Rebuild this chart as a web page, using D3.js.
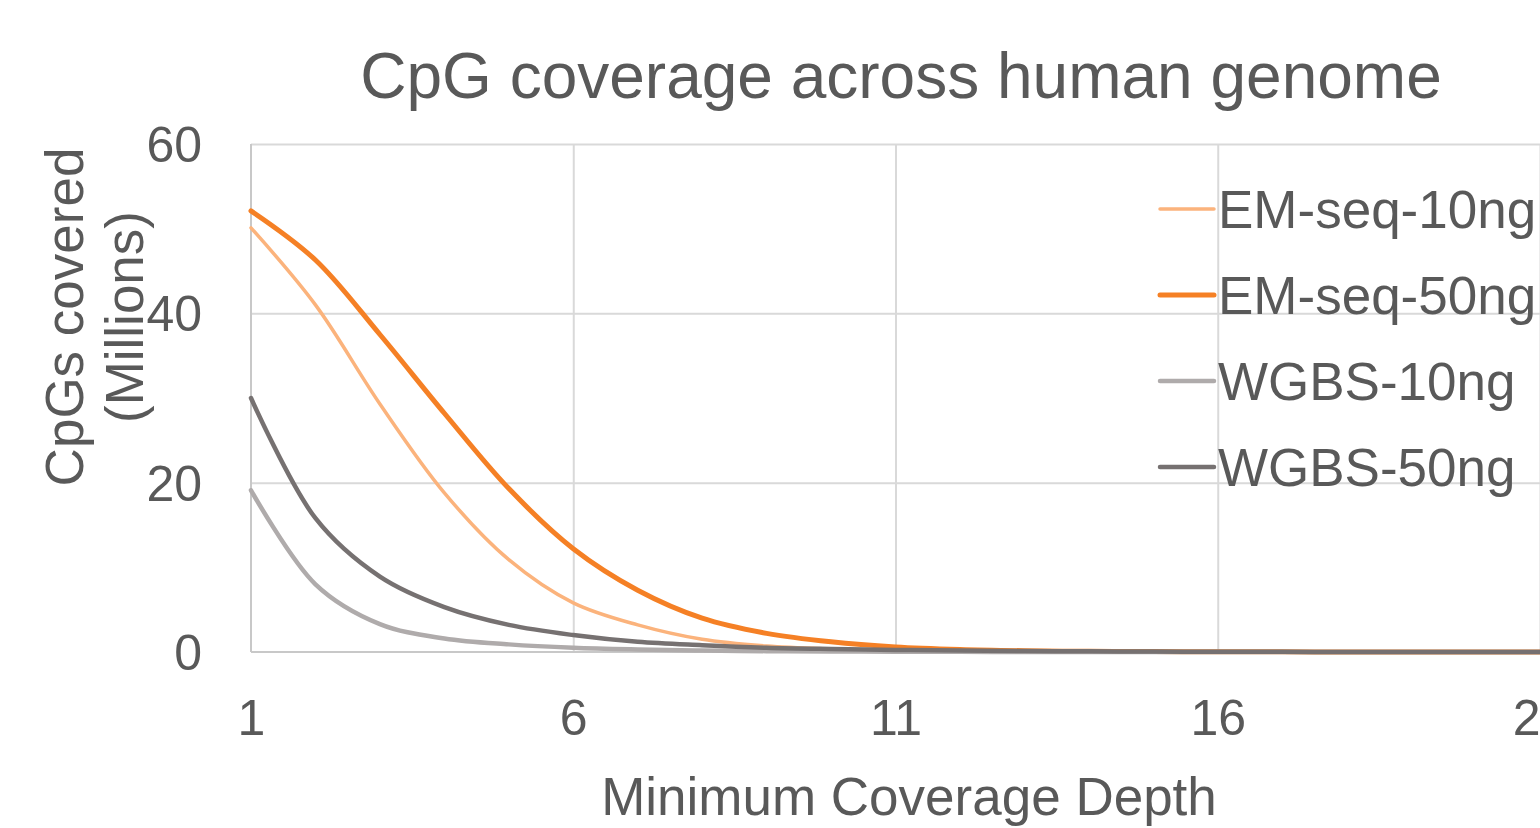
<!DOCTYPE html>
<html>
<head>
<meta charset="utf-8">
<script src="https://cdn.jsdelivr.net/npm/d3@7"></script>
<style>
  body { margin: 0; background: #fff; }
  svg { display: block; font-family: "Liberation Sans", Arial, sans-serif; }
  .axis text { fill: #595959; }
</style>
</head>
<body>
<div id="chart"></div>
<script>
// depth values on the x axis
var depths = [1, 2, 3, 4, 5, 6, 7, 8, 9, 10, 11, 12, 13, 14, 15, 16, 17, 18, 19, 20, 21];
var seriesNames = ["EM-seq-10ng", "EM-seq-50ng", "WGBS-10ng", "WGBS-50ng"];

// CpGs covered (millions)
var emSeq10 = [50.1, 41.0, 29.3, 18.8, 10.9, 5.8, 3.2, 1.5, 0.7, 0.35, 0.17, 0.08, 0.04, 0.02, 0.01, 0.01, 0, 0, 0, 0, 0];
var emSeq50 = [52.1, 46.3, 37.5, 28.2, 19.3, 12.2, 7.3, 4.0, 2.2, 1.2, 0.6, 0.3, 0.15, 0.08, 0.05, 0.03, 0.02, 0.01, 0.01, 0, 0];
var wgbs10 = [19.1, 8.0, 3.3, 1.6, 0.9, 0.5, 0.3, 0.18, 0.1, 0.06, 0.04, 0.02, 0.01, 0.01, 0, 0, 0, 0, 0, 0, 0];
var wgbs50 = [30.0, 15.8, 8.9, 5.3, 3.2, 2.0, 1.2, 0.8, 0.5, 0.35, 0.25, 0.17, 0.12, 0.08, 0.05, 0.03, 0.02, 0.01, 0.01, 0, 0];

var xTicks = [1, 6, 11, 16, 21];
var yTicks = [0, 20, 40, 60];

var colors = ["#fbb37c", "#f58025", "#afabab", "#767171"];
var widths = [3.5, 5, 4.5, 4.5];

var W = 1540, H = 828;
var margin = { top: 144, left: 251 };
var plotW = 1289, plotH = 508;

var svg = d3.select("#chart").append("svg")
    .attr("width", W)
    .attr("height", H);

var x = d3.scaleLinear().domain([1, 21]).range([0, plotW]);
var y = d3.scaleLinear().domain([0, 60]).range([plotH, 0]);

var g = svg.append("g")
    .attr("transform", "translate(" + margin.left + "," + margin.top + ")");

// gridlines
g.append("g")
    .attr("class", "grid")
    .call(d3.axisLeft(y).tickValues(yTicks.slice(1)).tickSize(-plotW).tickFormat(""))
    .call(function (s) { s.select(".domain").remove(); })
    .selectAll("line").attr("stroke", "#d9d9d9").attr("stroke-width", 2);

g.append("g")
    .attr("class", "grid")
    .attr("transform", "translate(0," + plotH + ")")
    .call(d3.axisBottom(x).tickValues(xTicks.slice(1)).tickSize(plotH).tickFormat(""))
    .call(function (s) { s.select(".domain").remove(); })
    .selectAll("line").attr("stroke", "#d9d9d9").attr("stroke-width", 2)
    .attr("y2", -plotH);

// axis lines
g.append("line")
    .attr("x1", 0).attr("x2", 0).attr("y1", 0).attr("y2", plotH)
    .attr("stroke", "#c8c8c8").attr("stroke-width", 2);
g.append("line")
    .attr("x1", 0).attr("x2", plotW).attr("y1", plotH).attr("y2", plotH)
    .attr("stroke", "#c8c8c8").attr("stroke-width", 2);

// tick labels
var yAxis = g.append("g")
    .attr("class", "axis")
    .attr("transform", "translate(-49,0)")
    .call(d3.axisLeft(y).tickValues(yTicks).tickSize(0).tickPadding(0));
yAxis.select(".domain").remove();
yAxis.selectAll("text")
    .attr("font-size", 50)
    .attr("font-family", "Liberation Sans, Arial, sans-serif")
    .attr("dy", "0.35em");

var xAxis = g.append("g")
    .attr("class", "axis")
    .attr("transform", "translate(0," + plotH + ")")
    .call(d3.axisBottom(x).tickValues(xTicks).tickSize(0).tickPadding(0));
xAxis.select(".domain").remove();
xAxis.selectAll("text")
    .attr("font-size", 50)
    .attr("font-family", "Liberation Sans, Arial, sans-serif")
    .attr("dy", null)
    .attr("y", 83);

// lines
var allSeries = [emSeq10, emSeq50, wgbs10, wgbs50];
var line = d3.line()
    .x(function (d, i) { return x(depths[i]); })
    .y(function (d) { return y(d); })
    .curve(d3.curveCatmullRom.alpha(0.5));

g.selectAll(".series")
    .data(allSeries)
    .enter().append("path")
    .attr("class", "series")
    .attr("d", line)
    .attr("fill", "none")
    .attr("stroke", function (d, i) { return colors[i]; })
    .attr("stroke-width", function (d, i) { return widths[i]; })
    .attr("stroke-linejoin", "round")
    .attr("stroke-linecap", "round");

// legend
var legend = svg.append("g").attr("transform", "translate(1160,209)");
var item = legend.selectAll(".item")
    .data(seriesNames)
    .enter().append("g")
    .attr("transform", function (d, i) { return "translate(0," + (i * 86) + ")"; });
item.append("line")
    .attr("x1", 0).attr("x2", 54)
    .attr("stroke", function (d, i) { return colors[i]; })
    .attr("stroke-width", function (d, i) { return widths[i]; })
    .attr("stroke-linecap", "round");
item.append("text")
    .attr("x", 58)
    .attr("dy", "0.36em")
    .attr("font-size", 53)
    .attr("fill", "#595959")
    .text(function (d) { return d; });

// titles
svg.append("text")
    .attr("x", 901).attr("y", 98)
    .attr("text-anchor", "middle")
    .attr("font-size", 64)
    .attr("fill", "#595959")
    .text("CpG coverage across human genome");

svg.append("text")
    .attr("x", 909).attr("y", 815)
    .attr("text-anchor", "middle")
    .attr("font-size", 53)
    .attr("fill", "#595959")
    .text("Minimum Coverage Depth");

var yTitle = svg.append("text")
    .attr("transform", "translate(83,317) rotate(-90)")
    .attr("text-anchor", "middle")
    .attr("font-size", 53)
    .attr("fill", "#595959");
yTitle.append("tspan").attr("x", 0).attr("y", 0).text("CpGs covered");
yTitle.append("tspan").attr("x", 0).attr("y", 60).text("(Millions)");
</script>
</body>
</html>
